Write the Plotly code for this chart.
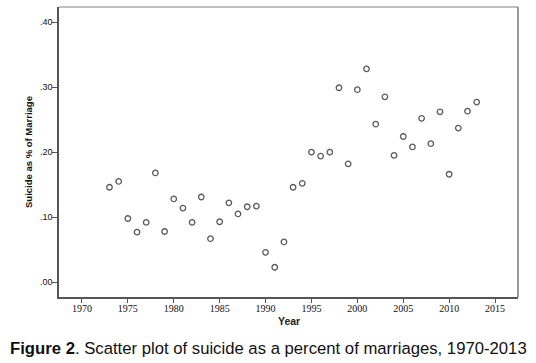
import plotly.graph_objects as go

years = list(range(1973, 2014))
suicide_pct = [0.146, 0.155, 0.098, 0.077, 0.092, 0.168, 0.078, 0.128,
               0.114, 0.092, 0.131, 0.067, 0.093, 0.122, 0.105, 0.116,
               0.117, 0.046, 0.023, 0.062, 0.146, 0.152, 0.200, 0.194,
               0.200, 0.299, 0.182, 0.296, 0.328, 0.243, 0.285, 0.195,
               0.224, 0.208, 0.252, 0.213, 0.262, 0.166, 0.237, 0.263,
               0.277]

x_ticks = [1970, 1975, 1980, 1985, 1990, 1995, 2000, 2005, 2010, 2015]
y_ticks = [0.0, 0.1, 0.2, 0.3, 0.4]
y_tick_labels = [".00", ".10", ".20", ".30", ".40"]

L, R, T, B = 59, 18, 7, 66
W, H = 536, 363
pw, ph = W - L - R, H - T - B

def px_x(x):
    return (x - L) / pw

def px_y(y):
    return (H - B - y) / ph

fig = go.Figure()
fig.add_trace(go.Scatter(
    x=years, y=suicide_pct, mode="markers",
    marker=dict(symbol="circle-open", size=5.5, color="#5a5a5a",
                line=dict(width=1.3, color="#5a5a5a")),
    showlegend=False, hoverinfo="x+y"))

fig.update_layout(
    width=W, height=H,
    margin=dict(l=L, r=R, t=T, b=B),
    paper_bgcolor="white", plot_bgcolor="white",
    xaxis=dict(range=[1967.5, 2017.5], tickvals=x_ticks, automargin=False,
               showgrid=False, zeroline=False,
               showline=True, linecolor="#555555", linewidth=1.5,
               ticks="outside", ticklen=4, tickcolor="#555555", tickwidth=1,
               ticklabelstandoff=-3,
               tickfont=dict(family="Liberation Serif", size=10, color="#111")),
    yaxis=dict(range=[-0.0227, 0.4231], tickvals=y_ticks, ticktext=y_tick_labels,
               automargin=False,
               showgrid=False, zeroline=False,
               showline=True, linecolor="#555555", linewidth=1.5,
               ticks="outside", ticklen=5, tickcolor="#555555", tickwidth=1,
               ticklabelstandoff=-2,
               tickfont=dict(family="Liberation Sans", size=9, color="#111")),
    shapes=[
        dict(type="line", xref="paper", yref="paper", x0=0, x1=1, y0=1, y1=1,
             line=dict(color="#aaaaaa", width=1.5)),
        dict(type="line", xref="paper", yref="paper", x0=1, x1=1, y0=0, y1=1,
             line=dict(color="#777777", width=1.5)),
    ],
    annotations=[
        dict(text="<b>Suicide as % of Marriage</b>", textangle=-90,
             xref="paper", yref="paper", x=px_x(28), y=0.5,
             xanchor="center", yanchor="middle", showarrow=False,
             font=dict(family="Liberation Sans", size=9.5, color="#111")),
        dict(text="<b>Year</b>",
             xref="paper", yref="paper", x=0.5, y=px_y(321),
             xanchor="center", yanchor="middle", showarrow=False,
             font=dict(family="Liberation Sans", size=10.5, color="#222")),
        dict(text="<b>Figure 2</b>. Scatter plot of suicide as a percent of marriages, 1970-2013",
             xref="paper", yref="paper", x=px_x(8), y=px_y(348),
             xanchor="left", yanchor="middle", showarrow=False,
             font=dict(family="Liberation Sans", size=16.7, color="#111")),
    ],
)

fig.write_html("out.html", config={"displayModeBar": False},
               post_script="document.body.style.margin='0';document.body.style.overflow='hidden';")
